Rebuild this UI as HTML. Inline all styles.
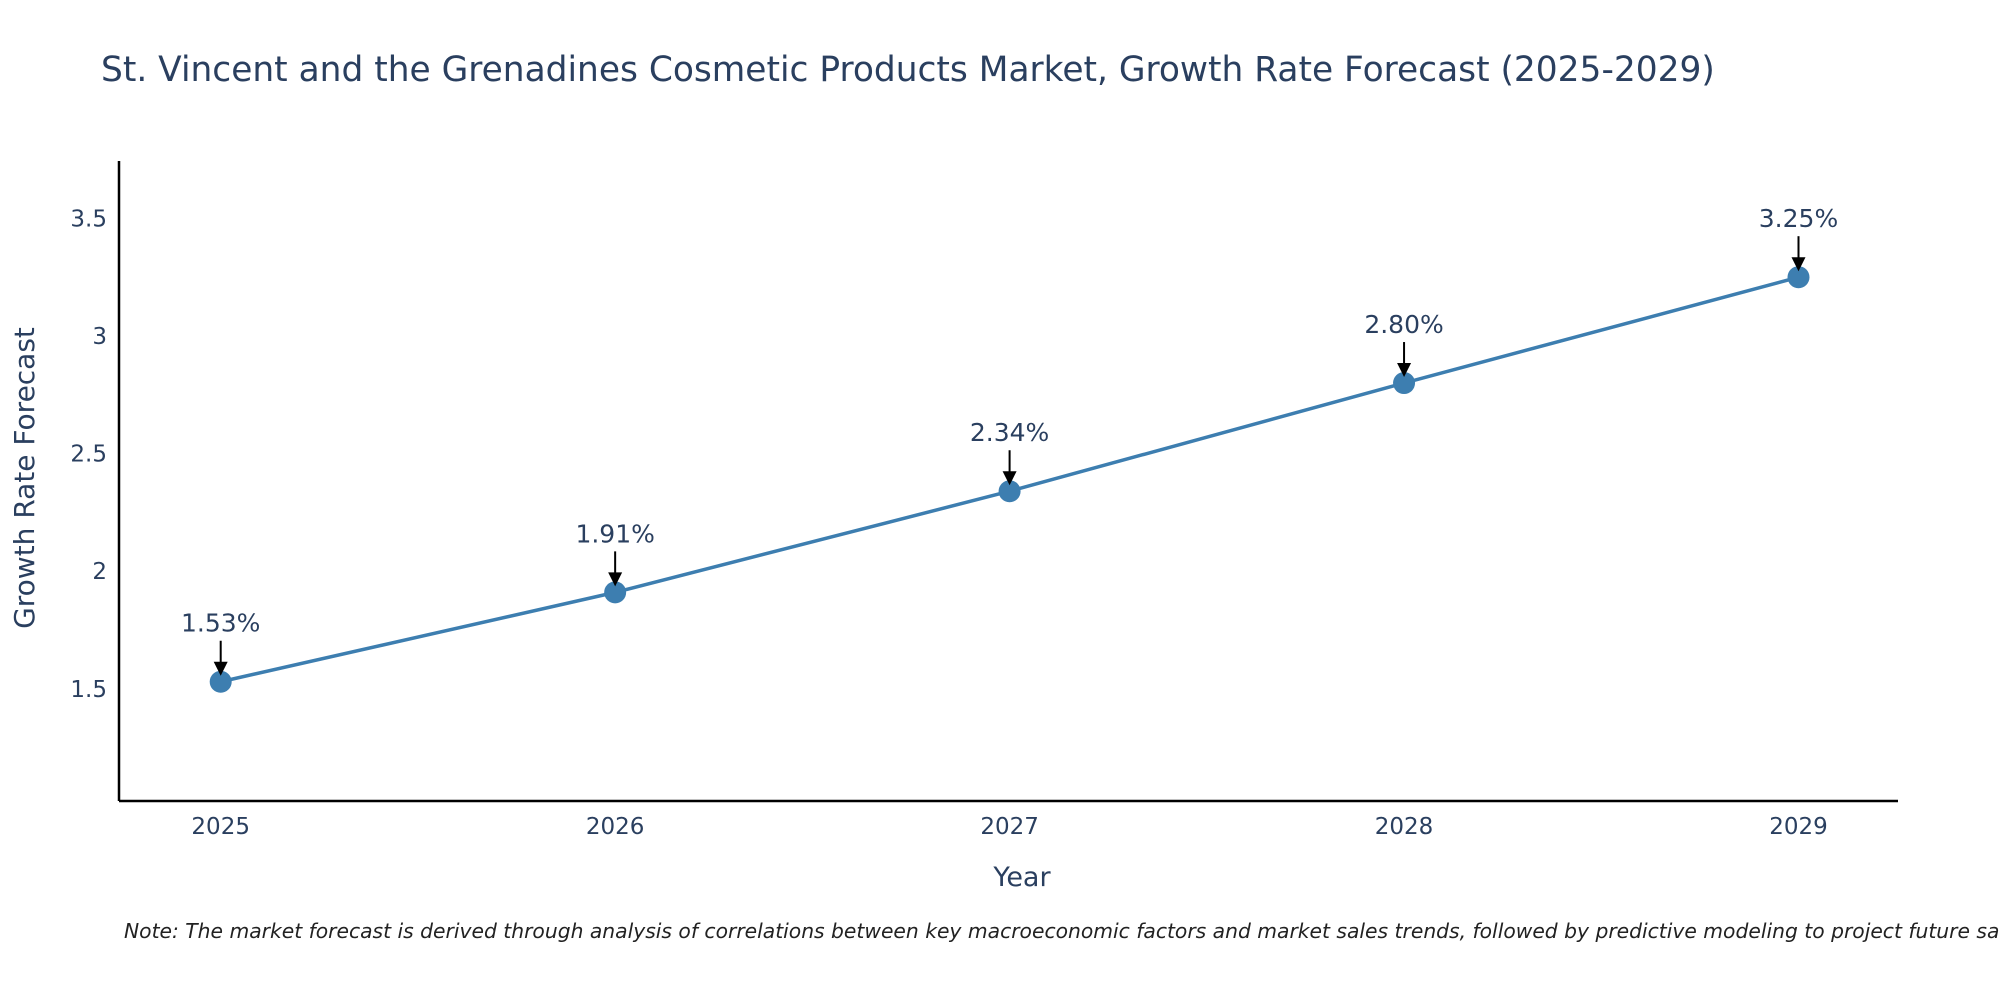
<!DOCTYPE html>
<html><head><meta charset="utf-8"><style>
html,body{margin:0;padding:0;background:#fff;}
svg{display:block;font-family:"DejaVu Sans","Liberation Sans",sans-serif;}
</style></head><body>
<svg id="chart" width="2000" height="1000" viewBox="0 0 2000 1000">
<text x="101" y="81" font-size="34.4" fill="#2a3f5f">St. Vincent and the Grenadines Cosmetic Products Market, Growth Rate Forecast (2025-2029)</text>
<g id="axes"></g>
<g id="marks"></g>
<text x="1022" y="886" font-size="27" fill="#2a3f5f" text-anchor="middle">Year</text>
<text x="0" y="0" font-size="28" fill="#2a3f5f" text-anchor="middle" transform="translate(34,478) rotate(-90)">Growth Rate Forecast</text>
<text x="124" y="938" font-size="20.3" font-style="italic" fill="#222">Note: The market forecast is derived through analysis of correlations between key macroeconomic factors and market sales trends, followed by predictive modeling to project future sales.</text>
</svg>
<script>
const years = [2025, 2026, 2027, 2028, 2029];
const values = [1.53, 1.91, 2.34, 2.80, 3.25];
const labels = ["1.53%", "1.91%", "2.34%", "2.80%", "3.25%"];
const yTicks = [1.5, 2, 2.5, 3, 3.5];
const yTickLabels = ["1.5", "2", "2.5", "3", "3.5"];

const NS = "http://www.w3.org/2000/svg";
const L = 119, R = 1898, T = 161, B = 801;
const yMin = 1.023, yMax = 3.744;
const x = v => 220.7 + (v - 2025) * 394.45;
const y = v => B - (v - yMin) / (yMax - yMin) * (B - T);
function mk(tag, attrs, parent) {
  const e = document.createElementNS(NS, tag);
  for (const k in attrs) e.setAttribute(k, attrs[k]);
  parent.appendChild(e);
  return e;
}
const axes = document.getElementById('axes');
const marks = document.getElementById('marks');

let yl = mk('line', {x1:L, y1:T, x2:L, y2:B, stroke:'#000', 'stroke-width':2.5}, axes);


let xl = mk('line', {x1:L, y1:B, x2:R, y2:B, stroke:'#000', 'stroke-width':2.5}, axes);



yTicks.forEach((t, i) => {
  const e = mk('text', {x:L-12, y:y(t)+8, 'font-size':23, fill:'#2a3f5f', 'text-anchor':'end'}, axes);
  e.textContent = yTickLabels[i];
  
  
});
years.forEach(yr => {
  const e = mk('text', {x:x(yr), y:B+33, 'font-size':23, fill:'#2a3f5f', 'text-anchor':'middle'}, axes);
  e.textContent = String(yr);
  
  
});

const pts = years.map((yr, i) => x(yr) + ',' + y(values[i])).join(' ');
const line = mk('polyline', {points:pts, fill:'none', stroke:'#3d7eb0', 'stroke-width':3.5}, marks);



years.forEach((yr, i) => {
  const cx = x(yr), cy = y(values[i]);
  const c = mk('circle', {cx:cx, cy:cy, r:11, fill:'#3d7eb0'}, marks);
  
  
  const a = mk('line', {x1:cx, y1:cy-41, x2:cx, y2:cy-18, stroke:'#000', 'stroke-width':2}, marks);
  
  
  const h = mk('polygon', {points:(cx-7)+','+(cy-20)+' '+(cx+7)+','+(cy-20)+' '+cx+','+(cy-6), fill:'#000'}, marks);
  
  
  const t = mk('text', {x:cx, y:cy-50, 'font-size':25, fill:'#2a3f5f', 'text-anchor':'middle'}, marks);
  t.textContent = labels[i];
  
  
});
</script>
</body></html>
